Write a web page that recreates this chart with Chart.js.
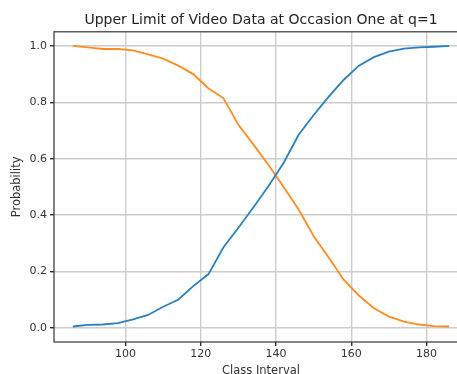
<!DOCTYPE html>
<html>
<head>
<meta charset="utf-8">
<script src="https://cdn.jsdelivr.net/npm/chart.js@4"></script>
<style>
    html, body { margin: 0; padding: 0; background: #fff; overflow: hidden; }
    #wrap { width: 457px; height: 374px; overflow: hidden; position: relative; }
    #box { width: 522px; height: 378px; position: absolute; left: 0; top: 0; }
</style>
</head>
<body>
<div id="wrap"><div id="box"><canvas id="chart"></canvas></div></div>
<script>
// Data
const classInterval = [86, 90, 94, 98, 102, 106, 110, 114, 118, 122, 126, 130, 134,
                       138, 142, 146, 150, 154, 158, 162, 166, 170, 174, 178, 182, 186];
const probRising = [0.005, 0.011, 0.012, 0.017, 0.030, 0.046, 0.075, 0.100, 0.148, 0.190,
                    0.285, 0.355, 0.428, 0.503, 0.585, 0.685, 0.755, 0.820, 0.880, 0.930,
                    0.960, 0.980, 0.990, 0.995, 0.997, 1.000];
const probFalling = [1.000, 0.995, 0.989, 0.989, 0.984, 0.970, 0.955, 0.930, 0.900, 0.850,
                     0.815, 0.720, 0.650, 0.578, 0.500, 0.420, 0.325, 0.250, 0.170, 0.115,
                     0.070, 0.040, 0.022, 0.012, 0.006, 0.005];
const xTicks = [100, 120, 140, 160, 180];
const yTicks = [0.0, 0.2, 0.4, 0.6, 0.8, 1.0];

const FONT = 'DejaVu Sans';

// frame around the plot (matplotlib spines)
const spines = {
    id: 'spines',
    afterDatasetsDraw(chart) {
        const a = chart.chartArea;
        const ctx = chart.ctx;
        ctx.save();
        ctx.strokeStyle = '#333';
        ctx.lineWidth = 1.2;
        ctx.strokeRect(a.left, a.top, a.right - a.left, a.bottom - a.top);
        ctx.restore();
    }
};

function toPoints(ys) {
    return classInterval.map((x, i) => ({ x: x, y: ys[i] }));
}

new Chart(document.getElementById('chart'), {
    type: 'line',
    data: {
        datasets: [{
            label: 'rising',
            data: toPoints(probRising),
            borderColor: '#2a80bf',
            borderWidth: 1.8,
            pointRadius: 0,
            tension: 0
        }, {
            label: 'falling',
            data: toPoints(probFalling),
            borderColor: '#ff8c22',
            borderWidth: 1.8,
            pointRadius: 0,
            tension: 0
        }]
    },
    options: {
        responsive: true,
        maintainAspectRatio: false,
        animation: false,
        layout: { padding: { left: 10, right: 54, top: 0, bottom: 0 } },
        plugins: {
            legend: { display: false },
            tooltip: { enabled: false },
            title: {
                display: true,
                fullSize: false,
                text: 'Upper Limit of Video Data at Occasion One at q=1',
                color: '#222',
                font: { family: FONT, size: 14, weight: 'normal' },
                padding: { top: 12, bottom: 3 }
            }
        },
        scales: {
            x: {
                type: 'linear',
                min: 81,
                max: 191,
                afterBuildTicks: s => { s.ticks = xTicks.map(v => ({ value: v })); },
                afterFit: s => { s.height = 36; },
                ticks: {
                    color: '#333',
                    font: { family: FONT, size: 11 },
                    padding: 2,
                    maxRotation: 0
                },
                grid: { color: '#cccccc', lineWidth: 1.4, tickLength: 4, tickColor: '#333' },
                border: { display: false },
                title: {
                    display: true,
                    text: 'Class Interval',
                    color: '#333',
                    font: { family: FONT, size: 11.5 },
                    padding: { top: 0, bottom: 0 }
                }
            },
            y: {
                min: -0.05,
                max: 1.05,
                afterBuildTicks: s => { s.ticks = yTicks.map(v => ({ value: v })); },
                afterFit: s => { s.width = 44; },
                ticks: {
                    color: '#333',
                    font: { family: FONT, size: 11 },
                    padding: 3,
                    callback: v => v.toFixed(1)
                },
                grid: { color: '#cccccc', lineWidth: 1.4, tickLength: 4, tickColor: '#333' },
                border: { display: false },
                title: {
                    display: true,
                    text: 'Probability',
                    color: '#333',
                    font: { family: FONT, size: 11.5 },
                    padding: { top: 0, bottom: 2 }
                }
            }
        }
    },
    plugins: [spines]
});
</script>
</body>
</html>
